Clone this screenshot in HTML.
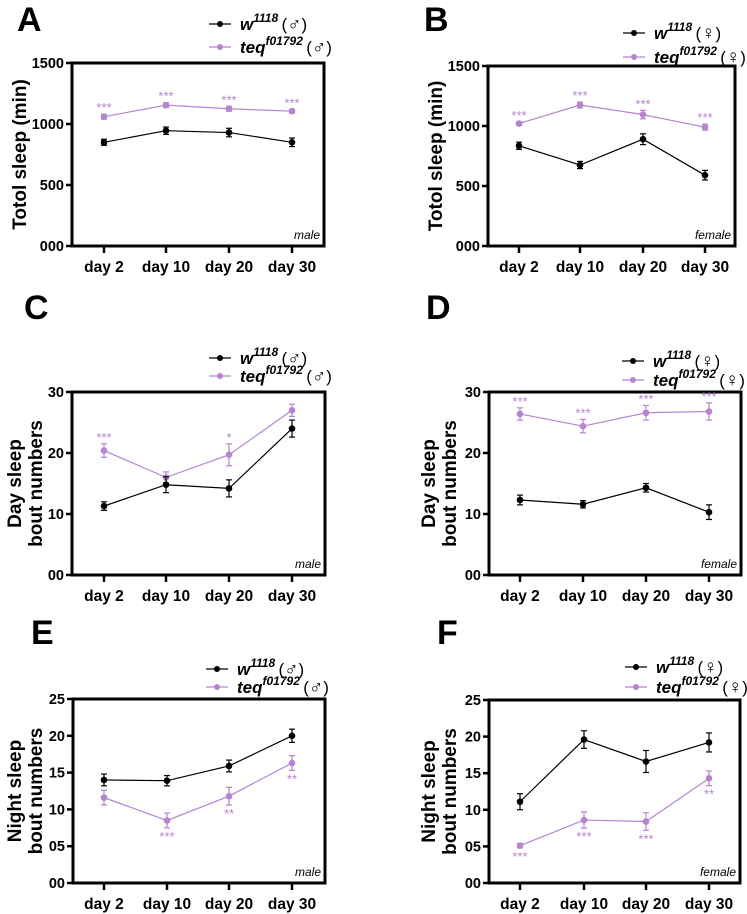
<!DOCTYPE html>
<html><head><meta charset="utf-8"><style>
html,body{margin:0;padding:0;background:#fff;}
svg{display:block;font-family:"Liberation Sans",Arial,sans-serif;}
</style></head><body>
<svg id="fig" width="747" height="914" viewBox="0 0 747 914" xmlns="http://www.w3.org/2000/svg"></svg>
<script>
const categories = ["day 2","day 10","day 20","day 30"];
// Panel A
const aW = [850,945,930,850], aWErr = [25,30,35,35];
const aT = [1060,1155,1125,1105], aTErr = [20,20,20,15];
const aStars = ["***","***","***","***"];
// Panel B
const bW = [835,675,890,590], bWErr = [30,30,45,40];
const bT = [1020,1175,1095,990], bTErr = [15,25,35,25];
const bStars = ["***","***","***","***"];
// Panel C
const cW = [11.3,14.8,14.2,24.0], cWErr = [0.7,1.3,1.4,1.4];
const cT = [20.4,16.0,19.7,27.0], cTErr = [1.1,0.9,1.8,1.0];
const cStars = ["***","","*",""];
// Panel D
const dW = [12.3,11.6,14.3,10.3], dWErr = [0.8,0.6,0.7,1.2];
const dT = [26.4,24.4,26.6,26.8], dTErr = [1.0,1.1,1.2,1.4];
const dStars = ["***","***","***","***"];
// Panel E
const eW = [14.0,13.9,15.9,20.0], eWErr = [0.8,0.7,0.8,0.9];
const eT = [11.6,8.5,11.8,16.3], eTErr = [1.0,1.0,1.2,1.0];
const eStars = ["","***","**","**"];
// Panel F
const fW = [11.1,19.6,16.6,19.2], fWErr = [1.1,1.2,1.5,1.3];
const fT = [5.1,8.6,8.4,14.3], fTErr = [0.3,1.1,1.2,1.0];
const fStars = ["***","***","***","**"];
// tick labels
const ticksTotal = [0,500,1000,1500], ticksTotalLbl = ["000","500","1000","1500"];
const ticksDay = [0,10,20,30], ticksDayLbl = ["00","10","20","30"];
const ticksNight = [0,5,10,15,20,25], ticksNightLbl = ["00","05","10","15","20","25"];

const PURPLE = "#b784cf";
const NS = "http://www.w3.org/2000/svg";
const svg = document.getElementById("fig");
function mk(tag, attrs, parent){
  const e = document.createElementNS(NS, tag);
  for (const k in attrs) e.setAttribute(k, attrs[k]);
  (parent||svg).appendChild(e);
  return e;
}
function panel(p){
  const g = mk("g", {});
  
  
  const sy = v => p.bottom - (v - 0) / p.max * (p.bottom - p.top);
  const sx = i => p.cx[i];
  const L = mk("text", {x:p.lx, y:p.ly, "font-size":34, "font-weight":"bold"}, g);
  L.textContent = p.id;
  
  
  const box = mk("rect", {x:p.left, y:p.top, width:p.right-p.left, height:p.bottom-p.top, fill:"none", stroke:"#000", "stroke-width":3}, g);
  
  
  p.ticks.forEach((t, i) => {
    const y = sy(t);
    mk("line", {x1:p.left-6, x2:p.left, y1:y, y2:y, stroke:"#000", "stroke-width":2.5}, g);
    const tl = mk("text", {x:p.left-8, y:y+5, "font-size":14.5, "font-weight":"bold", "text-anchor":"end"}, g);
    tl.textContent = p.tickLbl[i];
    
    
  });
  categories.forEach((c, i) => {
    const x = sx(i);
    mk("line", {x1:x, x2:x, y1:p.bottom, y2:p.bottom+7, stroke:"#000", "stroke-width":2.5}, g);
    const xl = mk("text", {x:x, y:p.bottom+26, "font-size":15.5, "font-weight":"bold", "text-anchor":"middle"}, g);
    xl.textContent = c;
    
    
  });
  const yt = mk("text", {transform:`translate(${p.tx},${(p.top+p.bottom)/2}) rotate(-90)`, "font-size":19, "font-weight":"bold", "text-anchor":"middle"}, g);
  
  
  p.title.forEach((line, i) => {
    const ts = mk("tspan", {x:0, dy: i===0 ? (p.title.length>1 ? -3 : 6) : 21}, yt);
    ts.textContent = line;
  });
  const sl = mk("text", {x:p.right-4, y:p.bottom-7, "font-size":12, "font-style":"italic", "text-anchor":"end"}, g);
  sl.textContent = p.sex;
  
  
  [[p.t, p.tErr, PURPLE, "teq-series"], [p.w, p.wErr, "#000", "w1118-series"]].forEach(([vals, errs, col, nm]) => {
    const pts = vals.map((v, i) => sx(i) + "," + sy(v)).join(" ");
    const pl = mk("polyline", {points:pts, fill:"none", stroke:col, "stroke-width":1.2}, g);
    
    
    vals.forEach((v, i) => {
      const x = sx(i), y1 = sy(v + errs[i]), y2 = sy(v - errs[i]);
      mk("line", {x1:x, x2:x, y1:y1, y2:y2, stroke:col, "stroke-width":1.2}, g);
      mk("line", {x1:x-3, x2:x+3, y1:y1, y2:y1, stroke:col, "stroke-width":1.2}, g);
      mk("line", {x1:x-3, x2:x+3, y1:y2, y2:y2, stroke:col, "stroke-width":1.2}, g);
      const c = mk("circle", {cx:x, cy:sy(v), r:3.3, fill:col}, g);
      
      
    });
  });
  p.stars.forEach((s, i) => {
    if (!s) return;
    const y = p.starBelow ? sy(p.t[i] - p.tErr[i]) + 13 : sy(p.t[i] + p.tErr[i]) - 2;
    const st = mk("text", {x:sx(i), y:y, "font-size":13, fill:PURPLE, "text-anchor":"middle"}, g);
    st.textContent = s;
    
    
  });
  const sym = p.sex === "male" ? "\u2642" : "\u2640";
  [["w", "1118", "#000", p.ly1], ["teq", "f01792", PURPLE, p.ly2]].forEach(([base, sup, col, y]) => {
    mk("line", {x1:p.legX, x2:p.legX+22, y1:y, y2:y, stroke:col, "stroke-width":1.2}, g);
    mk("circle", {cx:p.legX+11, cy:y, r:3, fill:col}, g);
    const t = mk("text", {x:p.legX+31, y:y+6, "font-size":17, "font-weight":"bold", "font-style":"italic"}, g);
    
    
    const a = mk("tspan", {}, t); a.textContent = base;
    const b = mk("tspan", {dy:-8, "font-size":12}, t); b.textContent = sup;
    const c = mk("tspan", {dy:8, "font-style":"normal", "font-weight":"normal", "font-size":17}, t); c.textContent = "\u2009(";
    const d = mk("tspan", {"font-style":"normal", "font-weight":"bold", "font-size":19}, t); d.textContent = sym;
    const e = mk("tspan", {"font-style":"normal", "font-weight":"normal", "font-size":17}, t); e.textContent = ")";
  });
}
const leftCx = [104,166,229,292], rightCx = [520,583,646,709];
panel({id:"A", lx:17, ly:31, left:72, right:324, top:63, bottom:246, max:1500, ticks:ticksTotal, tickLbl:ticksTotalLbl, cx:leftCx, tx:20, title:["Totol sleep (min)"], sex:"male", w:aW, wErr:aWErr, t:aT, tErr:aTErr, stars:aStars, starBelow:false, legX:209, ly1:24, ly2:47});
panel({id:"B", lx:424, ly:31, left:488, right:735, top:66, bottom:246, max:1500, ticks:ticksTotal, tickLbl:ticksTotalLbl, cx:[519,580,643,705], tx:436, title:["Totol sleep (min)"], sex:"female", w:bW, wErr:bWErr, t:bT, tErr:bTErr, stars:bStars, starBelow:false, legX:623, ly1:33, ly2:57});
panel({id:"C", lx:24, ly:319, left:72, right:325, top:392, bottom:575, max:30, ticks:ticksDay, tickLbl:ticksDayLbl, cx:leftCx, tx:24, title:["Day sleep","bout numbers"], sex:"male", w:cW, wErr:cWErr, t:cT, tErr:cTErr, stars:cStars, starBelow:false, legX:209, ly1:358, ly2:376});
panel({id:"D", lx:426, ly:319, left:489, right:741, top:392, bottom:575, max:30, ticks:ticksDay, tickLbl:ticksDayLbl, cx:rightCx, tx:438, title:["Day sleep","bout numbers"], sex:"female", w:dW, wErr:dWErr, t:dT, tErr:dTErr, stars:dStars, starBelow:false, legX:622, ly1:361, ly2:380});
panel({id:"E", lx:31, ly:644, left:73, right:325, top:699, bottom:883, max:25, ticks:ticksNight, tickLbl:ticksNightLbl, cx:[104,167,229,292], tx:24, title:["Night sleep","bout numbers"], sex:"male", w:eW, wErr:eWErr, t:eT, tErr:eTErr, stars:eStars, starBelow:true, legX:206, ly1:669, ly2:687});
panel({id:"F", lx:437, ly:644, left:489, right:740, top:700, bottom:883, max:25, ticks:ticksNight, tickLbl:ticksNightLbl, cx:[520,584,646,709], tx:438, title:["Night sleep","bout numbers"], sex:"female", w:fW, wErr:fWErr, t:fT, tErr:fTErr, stars:fStars, starBelow:true, legX:625, ly1:667, ly2:687});
</script>
</body></html>
